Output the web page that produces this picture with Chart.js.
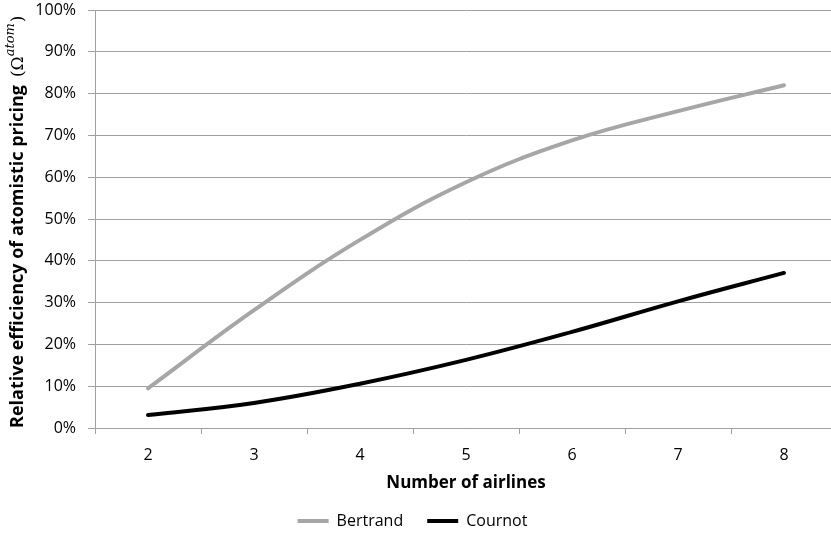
<!DOCTYPE html>
<html>
<head>
<meta charset="utf-8">
<script src="https://cdn.jsdelivr.net/npm/chart.js@4"></script>
<style>
    html, body { margin: 0; padding: 0; background: #fff; overflow: hidden; }
    #wrap { width: 831px; height: 539px; overflow: hidden; }
    #box { width: 837px; height: 539px; }
</style>
</head>
<body>
<div id="wrap"><div id="box"><canvas id="effChart"></canvas></div></div>
<script>
const airlines = ['2', '3', '4', '5', '6', '7', '8'];
const bertrand = [9.5, 28.2, 45.0, 58.8, 68.8, 75.8, 82.0];
const cournot = [3.1, 6.0, 10.6, 16.3, 23.0, 30.3, 37.1];
const yTicks = [0, 10, 20, 30, 40, 50, 60, 70, 80, 90, 100];

const FONT = "'Open Sans', 'DejaVu Sans', sans-serif";
const SERIF = "'DejaVu Serif', 'Liberation Serif', serif";
const GRID = '#a0a0a0';

// y axis title has a superscript, so it is drawn by hand
const yTitlePlugin = {
    id: 'yTitle',
    afterLayout(chart) {
        // legend sits a little left of the canvas centre in the original
        chart.legend.left -= 6;
        chart.legend.right -= 6;
    },
    afterDraw(chart) {
        const ctx = chart.ctx;
        ctx.save();
        ctx.translate(18, 428);
        ctx.rotate(-Math.PI / 2);
        ctx.fillStyle = '#000';
        ctx.textBaseline = 'middle';
        ctx.textAlign = 'left';
        let x = 0;
        const part = (txt, font, dy) => {
            ctx.font = font;
            ctx.fillText(txt, x, dy);
            x += ctx.measureText(txt).width;
        };
        part('Relative efficiency of atomistic pricing', 'bold 18px ' + FONT, 0);
        x += 8;
        part('(\u03A9', '17px ' + SERIF, 1);
        part('atom', 'italic 13px ' + SERIF, -7);
        x += 1;
        part(')', '17px ' + SERIF, 1);
        ctx.restore();
    }
};

document.addEventListener('DOMContentLoaded', () => {
    const ctx = document.getElementById('effChart').getContext('2d');
    new Chart(ctx, {
        type: 'line',
        data: {
            labels: airlines,
            datasets: [
                {
                    label: 'Bertrand',
                    data: bertrand,
                    borderColor: '#a6a6a6',
                    backgroundColor: '#a6a6a6',
                    borderWidth: 4,
                    borderCapStyle: 'round',
                    pointRadius: 0,
                    tension: 0.4
                },
                {
                    label: 'Cournot',
                    data: cournot,
                    borderColor: '#000',
                    backgroundColor: '#000',
                    borderWidth: 4,
                    borderCapStyle: 'round',
                    pointRadius: 0,
                    tension: 0.4
                }
            ]
        },
        options: {
            responsive: true,
            maintainAspectRatio: false,
            animation: false,
            layout: { padding: 0 },
            plugins: {
                tooltip: { enabled: false },
                legend: {
                    position: 'bottom',
                    labels: {
                        color: '#000',
                        font: { family: FONT, size: 16 },
                        boxWidth: 31,
                        boxHeight: 4,
                        padding: 24,
                        generateLabels(chart) {
                            return Chart.defaults.plugins.legend.labels.generateLabels(chart).map(l => {
                                l.lineWidth = 0;
                                l.fillStyle = l.strokeStyle;
                                return l;
                            });
                        }
                    }
                }
            },
            scales: {
                x: {
                    offset: true,
                    afterFit(scale) { scale.height = 61; },
                    grid: {
                        offset: true,
                        drawOnChartArea: false,
                        drawTicks: true,
                        tickLength: 6,
                        color: GRID
                    },
                    border: { color: GRID },
                    ticks: { color: '#000', font: { family: FONT, size: 16 }, padding: 12 },
                    title: {
                        display: true,
                        text: 'Number of airlines',
                        color: '#000',
                        font: { family: FONT, size: 17, weight: 'bold' },
                        padding: { top: 0, bottom: -4 }
                    }
                },
                y: {
                    min: 0,
                    max: 100,
                    afterBuildTicks(scale) {
                        scale.ticks = yTicks.map(v => ({ value: v }));
                    },
                    afterFit(scale) {
                        scale.width = 95;
                        scale.paddingTop = 10;
                    },
                    grid: { color: GRID, tickLength: 7 },
                    border: { color: GRID },
                    ticks: {
                        color: '#000',
                        font: { family: FONT, size: 16 },
                        padding: 12,
                        callback: v => v + '%'
                    }
                }
            }
        },
        plugins: [yTitlePlugin]
    });
});
</script>
</body>
</html>
